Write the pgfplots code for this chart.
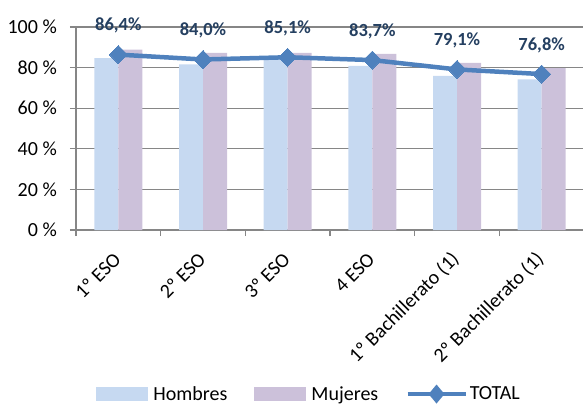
\documentclass[border=0pt]{standalone}
\usepackage{pgfplots}
\pgfplotsset{compat=1.18}
\usepackage{fontspec}
\setmainfont{Carlito}
\definecolor{hombres}{HTML}{C6D9F1}
\definecolor{mujeres}{HTML}{CCC1DA}
\definecolor{tot}{HTML}{4F81BD}
\definecolor{lab}{HTML}{254061}
\definecolor{gridc}{HTML}{868686}
\begin{document}
\begin{tikzpicture}
\useasboundingbox (0,0) rectangle (583pt,407pt);
\begin{axis}[
  at={(76pt,177pt)}, anchor=south west,
  scale only axis, width=508pt, height=203pt,
  xmin=-0.5, xmax=5.5, ymin=0, ymax=100,
  axis x line*=bottom, axis y line*=left,
  axis line style={gridc, line width=1.2pt},
  ytick={0,20,40,60,80,100},
  yticklabels={0 \%,20 \%,40 \%,60 \%,80 \%,100 \%},
  ymajorgrids, major grid style={gridc, line width=1.2pt},
  xtick={0,1,2,3,4,5},
  xticklabels={1º ESO,2º ESO,3º ESO,4 ESO,1º Bachillerato (1),2º Bachillerato (1)},
  minor xtick={-0.5,0.5,1.5,2.5,3.5,4.5,5.5},
  major x tick style={draw=none},
  minor x tick style={gridc, line width=1.2pt},
  ytick style={gridc, line width=1.2pt},
  tick align=outside, major tick length=6pt, minor tick length=6pt,
  ticklabel style={font=\fontsize{20}{23}\selectfont, text=black},
  xticklabel style={xshift=-1pt, yshift=-20pt, rotate=45, anchor=east, inner sep=0pt},
  yticklabel style={inner sep=0pt, xshift=-13pt},
  clip=false,
  legend columns=3,
  legend style={at={(0.457,-0.808)}, anchor=center, draw=none, fill=none,
    font=\fontsize{20}{23}\selectfont, inner sep=0pt,
    nodes={inner sep=0pt},
    /tikz/every even column/.append style={column sep=27pt}},
  legend cell align=left,
]
\addplot[ybar, bar width=24pt, bar shift=-12pt, fill=hombres, draw=none,
  legend image code/.code={\fill[hombres] (0pt,-7pt) rectangle (52pt,7pt); \path (57pt,0pt);}]
  coordinates {(0,84.7) (1,81.6) (2,84.7) (3,80.9) (4,75.9) (5,74.2)};
\addlegendentry{Hombres}
\addplot[ybar, bar width=24pt, bar shift=12pt, fill=mujeres, draw=none,
  legend image code/.code={\fill[mujeres] (0pt,-7pt) rectangle (52pt,7pt); \path (57pt,0pt);}]
  coordinates {(0,88.8) (1,87.3) (2,87.3) (3,86.8) (4,82.3) (5,79.7)};
\addlegendentry{Mujeres}
\addplot[sharp plot, color=tot, line width=4.5pt, mark=square*, mark size=6.4pt,
  mark options={rotate=45, line width=0pt, fill=tot},
  point meta=explicit symbolic,
  nodes near coords,
  nodes near coords style={anchor=south, yshift=18pt, font=\fontsize{18.5}{21}\selectfont\bfseries, text=lab},
  legend image code/.code={\draw[tot, line width=4.5pt] (0pt,0pt) -- (58pt,0pt);
    \fill[tot] (29pt,-6pt) -- (34pt,0pt) -- (29pt,6pt) -- (24pt,0pt) -- cycle; \path (60pt,0pt);}]
  coordinates {(0,86.4) [86,4\%] (1,84.0) [84,0\%] (2,85.1) [85,1\%] (3,83.7) [83,7\%] (4,79.1) [79,1\%] (5,76.8) [76,8\%]};
\addlegendentry{TOTAL}
\end{axis}
\end{tikzpicture}
\end{document}
